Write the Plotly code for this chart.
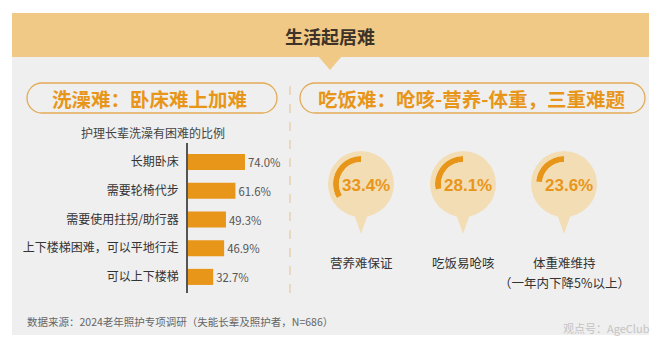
import plotly.graph_objects as go

W, H = 660, 345

# ---------------- data ----------------
title_text = "生活起居难"
left_heading = "洗澡难：卧床难上加难"
right_heading = "吃饭难：呛咳-营养-体重，三重难题"
bar_subtitle = "护理长辈洗澡有困难的比例"
bar_categories = ["长期卧床", "需要轮椅代步", "需要使用拄拐/助行器",
                  "上下楼梯困难，可以平地行走", "可以上下楼梯"]
bar_values = [74.0, 61.6, 49.3, 46.9, 32.7]
eat_labels = ["营养难保证", "吃饭易呛咳", "体重难维持"]
eat_notes = ["", "", "（一年内下降5%以上）"]
eat_values = [33.4, 28.1, 23.6]
source_text = "数据来源：2024老年照护专项调研（失能长辈及照护者，N=686）"
watermark_text = "观点号：AgeClub"

# ---------------- style ----------------
FONT = "Noto Sans CJK SC, Noto Sans, sans-serif"
NUMFONT = "Liberation Sans, Arial, sans-serif"
ORANGE = "#E8961A"
BAND = "#F0C987"
PANEL = "#EFEFEF"
BUBBLE = "#F3DDB4"
PILL_LINE = "#E3AA55"

bubble_cx = [361, 463, 564]
bubble_cy = 184
bubble_r = 33
arc_outer = 28
arc_inner = 22

fig = go.Figure()

# invisible trace to anchor pixel axes
fig.add_trace(go.Scatter(x=[0], y=[0], mode="markers", marker=dict(opacity=0),
                         hoverinfo="skip", showlegend=False, xaxis="x", yaxis="y"))

# bar chart
fig.add_trace(go.Bar(
    x=bar_values, y=bar_categories, orientation="h", xaxis="x2", yaxis="y2",
    marker=dict(color=ORANGE, line=dict(width=0)), width=0.56,
    text=[f"{v:.1f}%" for v in bar_values], textposition="outside",
    outsidetextfont=dict(size=12, color="#555555", family=FONT),
    cliponaxis=False, hoverinfo="skip", showlegend=False))

shapes = []
annotations = []

# header band + triangle + panel
shapes.append(dict(type="rect", x0=12, x1=649, y0=57, y1=335, fillcolor=PANEL,
                   line=dict(width=0), xref="x", yref="y", layer="below"))
shapes.append(dict(type="rect", x0=12, x1=649, y0=13, y1=57, fillcolor=BAND,
                   line=dict(width=0), xref="x", yref="y", layer="below"))
shapes.append(dict(type="path", path="M 318 56 L 342 56 L 330 70 Z", fillcolor=BAND,
                   line=dict(width=0), xref="x", yref="y", layer="below"))


def pill(x0, y0, x1, y1):
    r = (y1 - y0) / 2
    k = 0.5523 * r
    ym = (y0 + y1) / 2
    return (f"M {x0+r} {y0} L {x1-r} {y0} "
            f"C {x1-r+k} {y0} {x1} {ym-k} {x1} {ym} "
            f"C {x1} {ym+k} {x1-r+k} {y1} {x1-r} {y1} "
            f"L {x0+r} {y1} "
            f"C {x0+r-k} {y1} {x0} {ym+k} {x0} {ym} "
            f"C {x0} {ym-k} {x0+r-k} {y0} {x0+r} {y0} Z")


shapes.append(dict(type="path", path=pill(27, 83, 277, 113), line=dict(color=PILL_LINE, width=1.3),
                   xref="x", yref="y", layer="below"))
shapes.append(dict(type="path", path=pill(300, 83, 645, 113), line=dict(color=PILL_LINE, width=1.3),
                   xref="x", yref="y", layer="below"))
shapes.append(dict(type="line", x0=290, x1=290, y0=86, y1=298,
                   line=dict(color="#E6C99E", width=1.2, dash="dash"),
                   xref="x", yref="y", layer="below"))

# bubbles
for cx in bubble_cx:
    shapes.append(dict(type="circle", x0=cx - bubble_r, x1=cx + bubble_r,
                       y0=bubble_cy - bubble_r, y1=bubble_cy + bubble_r,
                       fillcolor=BUBBLE, line=dict(width=0), xref="x", yref="y", layer="below"))
    shapes.append(dict(type="path",
                       path=f"M {cx-7} {bubble_cy+30} L {cx+7} {bubble_cy+30} L {cx} {bubble_cy+50} Z",
                       fillcolor=BUBBLE, line=dict(width=0), xref="x", yref="y", layer="below"))

# arcs (polar subplots)
layout_polars = {}
for i, (cx, v) in enumerate(zip(bubble_cx, eat_values)):
    key = "polar" if i == 0 else f"polar{i+1}"
    fig.add_trace(go.Barpolar(r=[1], theta=[v * 3.6 / 2], width=[v * 3.6], subplot=key,
                              marker=dict(color=ORANGE, line=dict(width=0)),
                              hoverinfo="skip", showlegend=False))
    layout_polars[key] = dict(
        domain=dict(x=[(cx - arc_outer) / W, (cx + arc_outer) / W],
                    y=[1 - (bubble_cy + arc_outer) / H, 1 - (bubble_cy - arc_outer) / H]),
        hole=arc_inner / arc_outer, bgcolor="rgba(0,0,0,0)",
        radialaxis=dict(range=[0, 1], visible=False, showgrid=False),
        angularaxis=dict(visible=False, showgrid=False, rotation=90, direction="counterclockwise"))
    annotations.append(dict(x=cx + 5, y=bubble_cy + 1, xref="x", yref="y", text=f"{v:.1f}%",
                            showarrow=False, xanchor="center", yanchor="middle",
                            font=dict(family=NUMFONT, size=17, color=ORANGE, weight="bold")))
    annotations.append(dict(x=cx, y=262, xref="x", yref="y", text=eat_labels[i],
                            showarrow=False, xanchor="center", yanchor="middle",
                            font=dict(family=FONT, size=12.5, color="#333333")))
    if eat_notes[i]:
        annotations.append(dict(x=cx, y=282, xref="x", yref="y", text=eat_notes[i],
                                showarrow=False, xanchor="center", yanchor="middle",
                                font=dict(family=FONT, size=12.5, color="#333333")))

# texts
annotations.append(dict(x=330, y=36, xref="x", yref="y", text=title_text, showarrow=False,
                        xanchor="center", yanchor="middle",
                        font=dict(family=FONT, size=18, color="#3D3328", weight="bold")))
annotations.append(dict(x=149, y=98, xref="x", yref="y", text=left_heading, showarrow=False,
                        xanchor="center", yanchor="middle",
                        font=dict(family=FONT, size=19.5, color=ORANGE, weight="bold")))
annotations.append(dict(x=471, y=98, xref="x", yref="y", text=right_heading, showarrow=False,
                        xanchor="center", yanchor="middle",
                        font=dict(family=FONT, size=19.5, color=ORANGE, weight="bold")))
annotations.append(dict(x=153, y=132, xref="x", yref="y", text=bar_subtitle, showarrow=False,
                        xanchor="center", yanchor="middle",
                        font=dict(family=FONT, size=12, color="#444444")))
annotations.append(dict(x=25, y=321, xref="x", yref="y", text=source_text, showarrow=False,
                        xanchor="left", yanchor="middle",
                        font=dict(family=FONT, size=10.5, color="#666666")))
annotations.append(dict(x=652, y=328, xref="x", yref="y", text=watermark_text, showarrow=False,
                        xanchor="right", yanchor="middle",
                        font=dict(family=FONT, size=11, color="#C4C4C4")))

# bar axes geometry (pixels)
bx0, bx1 = 188, 265
by0, by1 = 143, 293

fig.update_layout(
    width=W, height=H, margin=dict(l=0, r=0, t=0, b=0),
    paper_bgcolor="white", plot_bgcolor="rgba(0,0,0,0)",
    showlegend=False,
    xaxis=dict(domain=[0, 1], range=[0, W], visible=False, fixedrange=True),
    yaxis=dict(domain=[0, 1], range=[H, 0], visible=False, fixedrange=True),
    xaxis2=dict(domain=[bx0 / W, bx1 / W], range=[0, 100], visible=False, anchor="y2"),
    yaxis2=dict(domain=[1 - by1 / H, 1 - by0 / H], anchor="x2", type="category",
                categoryorder="array", categoryarray=bar_categories,
                range=[4.56, -0.66], showline=True, linecolor="#555555", linewidth=1.5,
                showgrid=False, zeroline=False, ticks="", ticklabelstandoff=5,
                tickfont=dict(family=FONT, size=12, color="#333333")),
    shapes=shapes, annotations=annotations,
    **layout_polars,
)

fig.write_html("out.html")
